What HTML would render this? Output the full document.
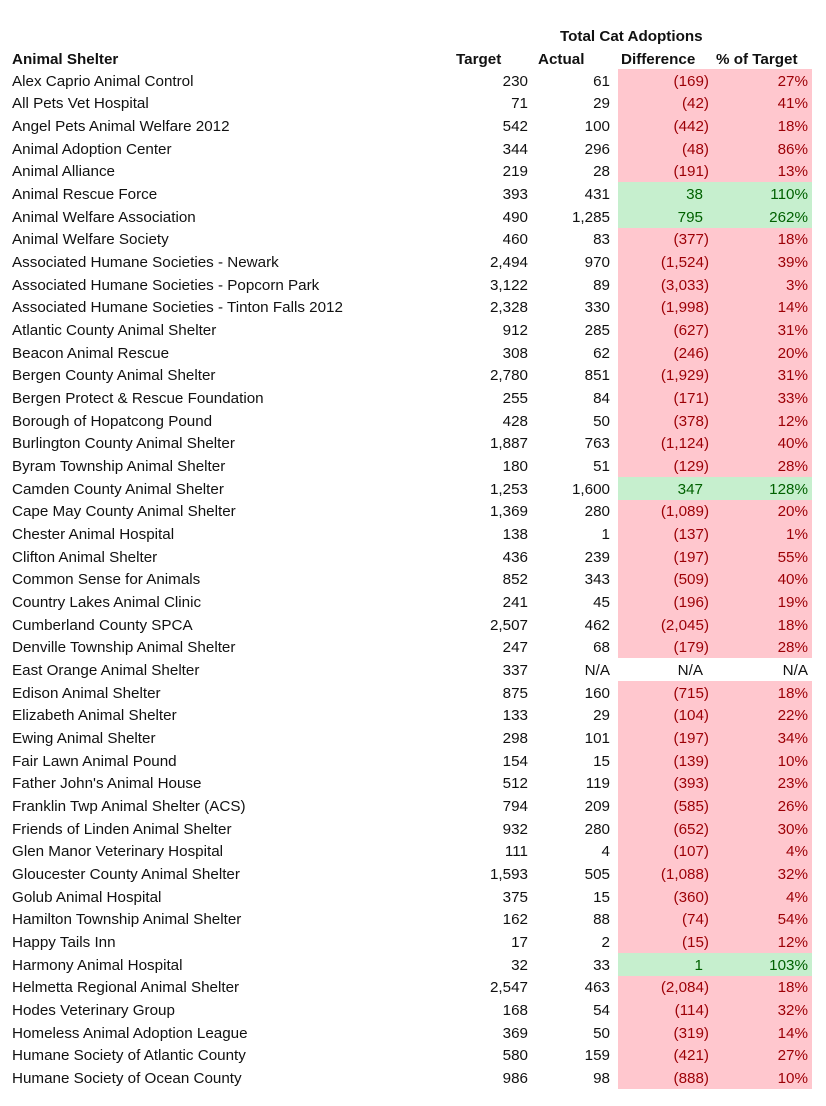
<!DOCTYPE html>
<html><head><meta charset="utf-8"><style>
body{margin:0;width:826px;height:1106px;background:#fff;position:relative;font-family:"Liberation Sans",sans-serif;font-size:15.2px;color:#111;overflow:hidden}
.r{position:absolute;left:0;width:826px;height:22.67px;line-height:22.67px}
.r span{position:absolute;top:1.5px;white-space:nowrap}
.n{left:12px}
.t{right:298px}
.a{right:216px}
.d{right:117px}
.p{right:18px}
.fill{position:absolute;left:618px;width:194px;height:22.67px;top:0}
.bad .fill{background:#FFC7CE}.bad .d,.bad .p{color:#9C0006}
.good .fill{background:#C6EFCE}.good .d,.good .p{color:#006100}
.h{font-weight:bold}
</style></head><body>
<div class="r h" style="top:24px"><span style="left:560px">Total Cat Adoptions</span></div>
<div class="r h" style="top:47px"><span class="n">Animal Shelter</span><span style="left:456px">Target</span><span style="left:538px">Actual</span><span style="left:621px">Difference</span><span style="left:716px">% of Target</span></div>
<div id="rows"></div>
<script>
var d=[
["Alex Caprio Animal Control","230","61","(169)","27%"],
["All Pets Vet Hospital","71","29","(42)","41%"],
["Angel Pets Animal Welfare 2012","542","100","(442)","18%"],
["Animal Adoption Center","344","296","(48)","86%"],
["Animal Alliance","219","28","(191)","13%"],
["Animal Rescue Force","393","431","38","110%"],
["Animal Welfare Association","490","1,285","795","262%"],
["Animal Welfare Society","460","83","(377)","18%"],
["Associated Humane Societies - Newark","2,494","970","(1,524)","39%"],
["Associated Humane Societies - Popcorn Park","3,122","89","(3,033)","3%"],
["Associated Humane Societies - Tinton Falls 2012","2,328","330","(1,998)","14%"],
["Atlantic County Animal Shelter","912","285","(627)","31%"],
["Beacon Animal Rescue","308","62","(246)","20%"],
["Bergen County Animal Shelter","2,780","851","(1,929)","31%"],
["Bergen Protect & Rescue Foundation","255","84","(171)","33%"],
["Borough of Hopatcong Pound","428","50","(378)","12%"],
["Burlington County Animal Shelter","1,887","763","(1,124)","40%"],
["Byram Township Animal Shelter","180","51","(129)","28%"],
["Camden County Animal Shelter","1,253","1,600","347","128%"],
["Cape May County Animal Shelter","1,369","280","(1,089)","20%"],
["Chester Animal Hospital","138","1","(137)","1%"],
["Clifton Animal Shelter","436","239","(197)","55%"],
["Common Sense for Animals","852","343","(509)","40%"],
["Country Lakes Animal Clinic","241","45","(196)","19%"],
["Cumberland County SPCA","2,507","462","(2,045)","18%"],
["Denville Township Animal Shelter","247","68","(179)","28%"],
["East Orange Animal Shelter","337","N/A","N/A","N/A"],
["Edison Animal Shelter","875","160","(715)","18%"],
["Elizabeth Animal Shelter","133","29","(104)","22%"],
["Ewing Animal Shelter","298","101","(197)","34%"],
["Fair Lawn Animal Pound","154","15","(139)","10%"],
["Father John's Animal House","512","119","(393)","23%"],
["Franklin Twp Animal Shelter (ACS)","794","209","(585)","26%"],
["Friends of Linden Animal Shelter","932","280","(652)","30%"],
["Glen Manor Veterinary Hospital","111","4","(107)","4%"],
["Gloucester County Animal Shelter","1,593","505","(1,088)","32%"],
["Golub Animal Hospital","375","15","(360)","4%"],
["Hamilton Township Animal Shelter","162","88","(74)","54%"],
["Happy Tails Inn","17","2","(15)","12%"],
["Harmony Animal Hospital","32","33","1","103%"],
["Helmetta Regional Animal Shelter","2,547","463","(2,084)","18%"],
["Hodes Veterinary Group","168","54","(114)","32%"],
["Homeless Animal Adoption League","369","50","(319)","14%"],
["Humane Society of Atlantic County","580","159","(421)","27%"],
["Humane Society of Ocean County","986","98","(888)","10%"]];
var h="";
d.forEach(function(r,i){
var c=r[3]=="N/A"?"":(r[3][0]=="("?"bad":"good");
h+='<div class="r '+c+'" style="top:'+(69+22.67*i).toFixed(2)+'px"><div class="fill"></div><span class="n">'+r[0].replace("&","&amp;")+'</span><span class="t">'+r[1]+'</span><span class="a">'+r[2]+'</span><span class="d" style="'+(r[3][0]=="("?'':'right:123px')+'">'+r[3]+'</span><span class="p">'+r[4]+'</span></div>';
});
document.getElementById("rows").innerHTML=h;
</script>
</body></html>
